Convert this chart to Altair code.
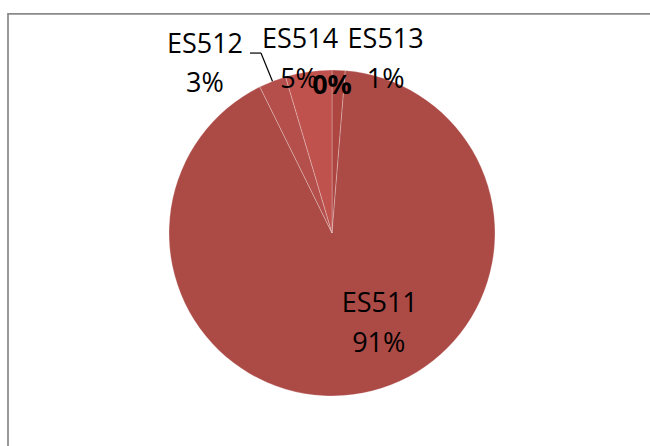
import altair as alt
import pandas as pd

# ---- data ----
categories = ["", "ES513", "ES511", "ES512", "ES514"]
shares = [0.0, 1.3, 91.4, 2.7, 4.6]
colors = ["#C0504D", "#AD4641", "#AC4A46", "#B54F4B", "#C0524E"]

# ---- layout / style ----
CX, CY, R = 332, 233, 163
FONT = "Open Sans"
FS = 27

df = pd.DataFrame({
    "category": categories,
    "share": shares,
    "idx": list(range(len(categories))),
})
df["pct"] = [f"{round(v)}%" for v in shares]

base = alt.Chart(df)


def polar(chart, r):
    return (
        chart.transform_joinaggregate(total="sum(share)")
        .transform_stack(stack="share", as_=["s0", "s1"], groupby=[],
                         sort=[alt.SortField("idx", order="ascending")])
        .transform_calculate(
            ang="(datum.s0 + datum.s1) / datum.total * PI",
            px=f"{CX} + {r} * sin(datum.ang)",
            py=f"{CY} - {r} * cos(datum.ang)",
        )
    )


def label(cat, field, r, dx, dy, bold=False):
    return (
        polar(base, r)
        .transform_filter(alt.datum.category == cat)
        .mark_text(font=FONT, fontSize=FS, fontWeight="bold" if bold else "normal",
                   color="black", align="center", baseline="alphabetic", dx=dx, dy=dy)
        .encode(x=alt.X("px:Q", scale=None), y=alt.Y("py:Q", scale=None),
                text=alt.Text(f"{field}:N"))
    )


def leader(cat, r, ax, ay, bx, by):
    return (
        polar(base, r)
        .transform_filter(alt.datum.category == cat)
        .transform_calculate(
            x1=f"datum.px + ({ax})", y1=f"datum.py + ({ay})",
            x2=f"datum.px + ({bx})", y2=f"datum.py + ({by})",
        )
        .mark_rule(color="black", strokeWidth=1.2)
        .encode(x=alt.X("x1:Q", scale=None), y=alt.Y("y1:Q", scale=None),
                x2="x2:Q", y2="y2:Q")
    )


border = alt.Chart(alt.Data(values=[{"a": 1}])).mark_rect(
    fill="white", fillOpacity=0, stroke="#8a8a8a", strokeWidth=1.75
).encode(x=alt.value(8), y=alt.value(13.75), x2=alt.value(760), y2=alt.value(600))

pie = base.mark_arc(radius=R, stroke="white", strokeWidth=0.7, strokeOpacity=0.38).encode(
    theta=alt.Theta("share:Q", stack=True),
    order=alt.Order("idx:Q"),
    color=alt.Color("category:N", scale=alt.Scale(domain=categories, range=colors), legend=None),
    x=alt.value(CX),
    y=alt.value(CY),
)

layers = [
    border,
    pie,
    leader("ES512", R, -22.5, -28.2, -11.5, -28.2),
    leader("ES512", R, -11.5, -28.2, 0, 0),
    label("ES512", "category", R, -67.5, -28),
    label("ES512", "pct", R, -67.5, 11),
    label("ES514", "category", R, -8.5, -23.7),
    label("ES514", "pct", R, -9.5, 16.3),
    label("ES513", "category", R, 47, -22),
    label("ES513", "pct", R, 47, 18),
    label("", "pct", R, 0, 24, bold=True),
    label("ES511", "category", 100, 29, -19),
    label("ES511", "pct", 100, 28, 21),
]

chart = alt.layer(*layers).properties(
    width=650, height=446, autosize=alt.AutoSizeParams(type="none"), padding=0
).configure_view(strokeWidth=0)

chart.save("out.html", embed_options={"renderer": "svg", "actions": False})
